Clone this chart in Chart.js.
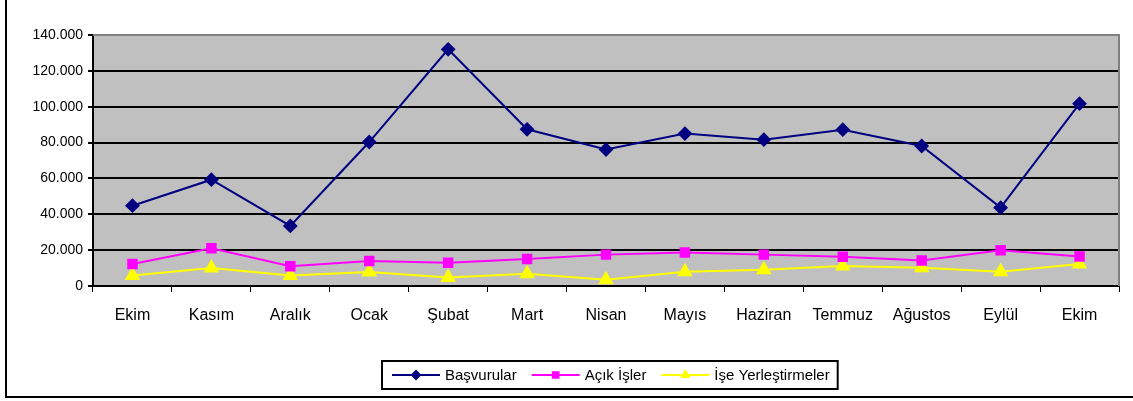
<!DOCTYPE html>
<html>
<head>
<meta charset="utf-8">
<script src="https://cdn.jsdelivr.net/npm/chart.js@4/dist/chart.umd.min.js"></script>
<style>
  html, body { margin: 0; padding: 0; background: #fff; }
  #wrap { position: relative; width: 1133px; height: 401px; }
</style>
</head>
<body>
<div id="wrap"><canvas id="chart" width="1133" height="401"></canvas></div>
<script>
// data
const months = ['Ekim', 'Kasım', 'Aralık', 'Ocak', 'Şubat', 'Mart', 'Nisan', 'Mayıs', 'Haziran', 'Temmuz', 'Ağustos', 'Eylül', 'Ekim'];
const basvurular = [44800, 59300, 33500, 80300, 132000, 87400, 76100, 85000, 81600, 87200, 78100, 43700, 101700];
const acikIsler = [12300, 21000, 11000, 14000, 13000, 15000, 17500, 18700, 17500, 16300, 14200, 20000, 16500];
const iseYerlestirmeler = [5800, 10000, 5800, 7800, 4800, 6800, 3500, 8000, 9000, 11200, 10200, 8000, 12300];

const yMax = 140000;
const yStep = 20000;

const FONT = '"Liberation Sans", Arial, sans-serif';

// gray plot background + outer frame
const plotBg = {
    id: 'plotBg',
    beforeDraw(chart) {
        const { ctx, chartArea: a } = chart;
        ctx.save();
        ctx.fillStyle = '#c0c0c0';
        ctx.fillRect(a.left, a.top, a.right - a.left, a.bottom - a.top);
        ctx.restore();
    },
    afterDraw(chart) {
        const { ctx, chartArea: a } = chart;
        ctx.save();
        ctx.strokeStyle = '#808080';
        ctx.lineWidth = 2;
        ctx.beginPath();
        ctx.moveTo(a.left, a.top);
        ctx.lineTo(a.right, a.top);
        ctx.lineTo(a.right, a.bottom);
        ctx.stroke();
        // outer border (left + bottom visible)
        ctx.strokeStyle = '#000';
        ctx.lineWidth = 2;
        ctx.beginPath();
        ctx.moveTo(6, 0);
        ctx.lineTo(6, 397);
        ctx.lineTo(1133, 397);
        ctx.stroke();
        ctx.restore();
    }
};

// legend box with line + marker like the spreadsheet legend
const lineLegend = {
    id: 'lineLegend',
    afterDraw(chart) {
        const { ctx } = chart;
        const boxX = 382, boxY = 361, boxH = 28;
        const gap = 15;
        ctx.save();
        ctx.font = '15px ' + FONT;
        const items = chart.data.datasets.map(ds => ({ ds, w: ctx.measureText(ds.label).width }));
        let total = 0;
        items.forEach(it => total += 48 + 5 + it.w + gap);
        const boxW = 10 + total - gap + 8;
        ctx.fillStyle = '#fff';
        ctx.fillRect(boxX, boxY, boxW, boxH);
        ctx.strokeStyle = '#000';
        ctx.lineWidth = 2;
        ctx.strokeRect(boxX, boxY, boxW, boxH);
        let x = boxX + 10;
        const cy = boxY + boxH / 2;
        items.forEach(it => {
            const ds = it.ds;
            ctx.strokeStyle = ds.borderColor;
            ctx.lineWidth = 2;
            ctx.beginPath();
            ctx.moveTo(x, cy);
            ctx.lineTo(x + 48, cy);
            ctx.stroke();
            ctx.fillStyle = ds.borderColor;
            ctx.strokeStyle = ds.borderColor;
            Chart.helpers.drawPoint(ctx, { pointStyle: ds.pointStyle, radius: 4, rotation: 0, borderWidth: 1 }, x + 24, cy);
            ctx.fillStyle = '#000';
            ctx.textBaseline = 'middle';
            ctx.textAlign = 'left';
            ctx.fillText(ds.label, x + 53, cy + 1);
            x += 48 + 5 + it.w + gap;
        });
        ctx.restore();
    }
};

function series(label, data, color, style, radius) {
    return {
        label,
        data,
        borderColor: color,
        backgroundColor: color,
        pointBackgroundColor: color,
        pointBorderColor: color,
        borderWidth: 2,
        tension: 0,
        pointStyle: style,
        pointRadius: radius,
        pointHoverRadius: radius,
        fill: false
    };
}

new Chart(document.getElementById('chart').getContext('2d'), {
    type: 'line',
    data: {
        labels: months,
        datasets: [
            series('Başvurular', basvurular, '#000080', 'rectRot', 6),
            series('Açık İşler', acikIsler, '#ff00ff', 'rect', 6),
            series('İşe Yerleştirmeler', iseYerlestirmeler, '#ffff00', 'triangle', 7)
        ]
    },
    options: {
        responsive: false,
        animation: false,
        layout: { padding: { left: 0, right: 14, top: 35, bottom: 0 } },
        plugins: {
            legend: { display: false },
            tooltip: { enabled: false }
        },
        scales: {
            x: {
                offset: true,
                grid: {
                    offset: true,
                    drawOnChartArea: false,
                    drawTicks: true,
                    tickLength: 6,
                    tickColor: '#000',
                    lineWidth: 1
                },
                border: { color: '#000', width: 2 },
                ticks: {
                    color: '#000',
                    font: { family: FONT, size: 16 },
                    padding: 14,
                    maxRotation: 0,
                    autoSkip: false
                },
                afterFit(axis) { axis.height = 115; }
            },
            y: {
                min: 0,
                max: yMax,
                grid: {
                    color: '#000',
                    lineWidth: 2,
                    drawTicks: true,
                    tickLength: 5,
                    tickColor: '#000'
                },
                border: { color: '#000', width: 2 },
                ticks: {
                    stepSize: yStep,
                    color: '#000',
                    font: { family: FONT, size: 14 },
                    padding: 5,
                    callback: v => v.toLocaleString('de-DE')
                },
                afterFit(axis) { axis.width = 93; }
            }
        }
    },
    plugins: [plotBg, lineLegend]
});
</script>
</body>
</html>
